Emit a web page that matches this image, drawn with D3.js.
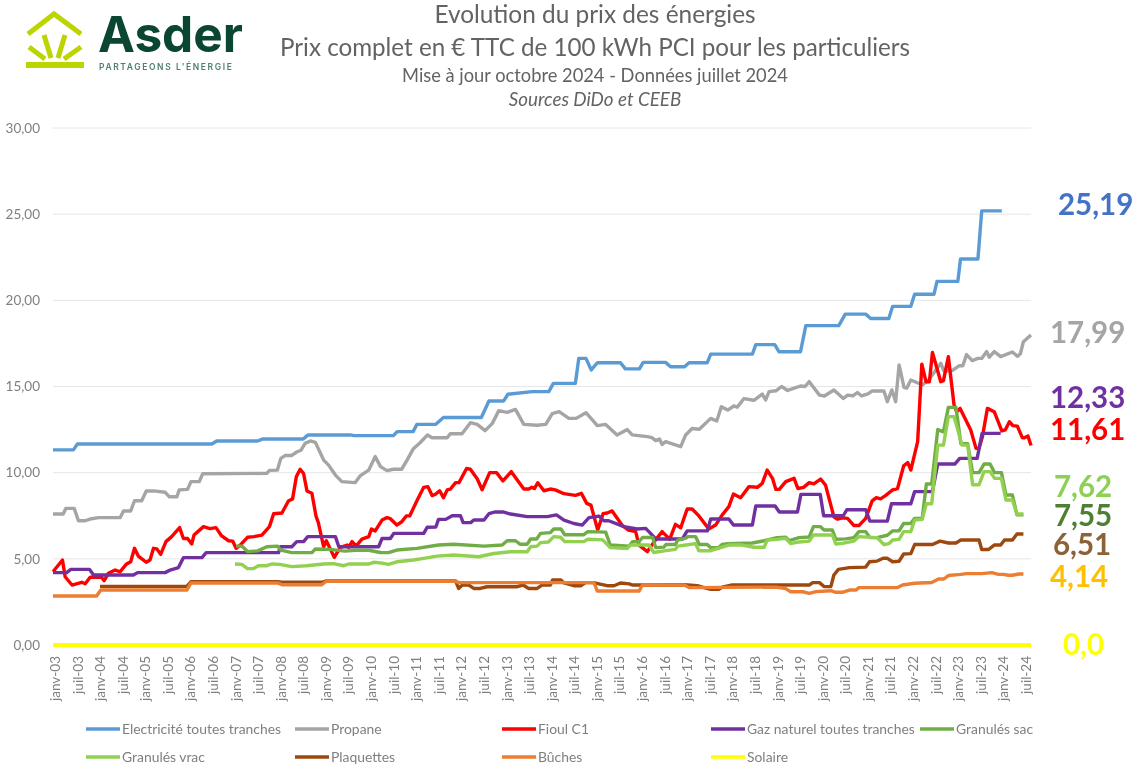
<!DOCTYPE html>
<html lang="fr">
<head>
<meta charset="utf-8">
<title>Evolution du prix des énergies</title>
<script src="https://cdn.jsdelivr.net/npm/d3@7"></script>
<style>
    html, body { margin: 0; padding: 0; background: #fff; }
    svg { display: block; font-family: Lato, "Open Sans", sans-serif; filter: blur(0.4px); }
</style>
</head>
<body>
<div id="chart"></div>
<script>
// each point is [months since janv-03, price in EUR for 100 kWh]
const electricite = [[0,11.32],[5.4,11.32],[6.4,11.66],[41.9,11.66],[43.2,11.84],[54,11.84],[55.2,11.95],[66,11.95],[67.3,12.19],[78.4,12.19],[79.5,12.15],[89.8,12.15],[90.8,12.38],[95,12.38],[96,12.8],[100.9,12.8],[103,13.2],[113,13.2],[115,14.16],[118.9,14.16],[120,14.55],[126.4,14.7],[130.8,14.7],[132,15.18],[137.8,15.18],[138.7,16.63],[140.6,16.63],[142,15.96],[143.6,16.38],[149.7,16.38],[151,16.02],[154.7,16.02],[155.7,16.4],[161.6,16.4],[162.9,16.15],[166.6,16.15],[167.8,16.38],[172.6,16.38],[173.5,16.88],[184.5,16.88],[185.4,17.43],[190.4,17.43],[191.5,17.02],[197.2,17.02],[198.6,18.53],[207.3,18.53],[209,19.2],[214.4,19.2],[215.7,18.95],[220.5,18.95],[221.5,19.65],[226.3,19.65],[227.3,20.35],[232.4,20.35],[233.2,21.1],[238.7,21.1],[239.4,22.4],[244,22.4],[245,25.19],[250.3,25.19]];

const propane = [[0,7.6],[2.7,7.6],[3.4,7.93],[5.6,7.93],[6.7,7.21],[8.5,7.21],[9.8,7.31],[12,7.39],[17.7,7.39],[18.6,7.78],[20.5,7.78],[21.5,8.37],[23.4,8.37],[24.6,8.94],[26.5,8.94],[29.6,8.86],[30.7,8.6],[32.7,8.6],[33.3,9],[35.5,9.03],[36.4,9.48],[38.6,9.48],[39.5,9.94],[56.4,9.96],[57.1,10.13],[59.2,10.15],[60.1,10.83],[61.3,11],[63,11],[64.3,11.2],[65.4,11.3],[66.5,11.7],[67.9,11.84],[69.2,11.76],[71.4,10.73],[72.7,10.44],[74.5,9.86],[76.2,9.48],[79.7,9.42],[81,9.81],[83.3,10.15],[85,10.93],[86.4,10.35],[88.1,10.12],[89.8,10.2],[92,10.2],[93.4,10.73],[95,11.37],[96.9,11.75],[98.8,12.19],[100,12.03],[104,12.03],[104.8,12.26],[107.9,12.26],[110.1,12.9],[111.9,12.8],[114,12.44],[115.9,12.86],[117.6,13.6],[119.8,13.5],[122,13.67],[124.2,12.8],[127.7,12.75],[130,12.8],[131.7,13.43],[133.5,13.54],[136.1,13.15],[138,13.15],[140.6,13.48],[143.6,12.73],[145.8,12.8],[148.8,12.19],[151.5,12.5],[152.8,12.19],[156.8,12.09],[158,12.03],[159,11.86],[160,11.95],[160.7,11.64],[161.6,11.8],[165.6,11.51],[166.9,12.19],[168.6,12.56],[170.5,12.52],[173.5,13.15],[175.1,13],[176.3,13.83],[178,13.63],[179.6,13.87],[180.5,13.8],[182.3,14.3],[184.9,14.2],[187.1,14.56],[188,14.22],[188.9,14.7],[190.7,14.75],[192.2,15],[193.8,14.77],[197.2,15.03],[198.4,15],[199.5,15.28],[202.2,14.5],[203.5,14.45],[206,14.8],[208.5,14.3],[209.6,14.5],[211,14.46],[212.2,14.65],[213.3,14.45],[215,14.57],[216.1,14.74],[219.2,14.74],[220.1,14.12],[221.3,14.8],[222.3,14.12],[223.2,16.25],[224.5,14.95],[225.2,14.9],[226.3,15.38],[228,15.22],[229.4,15.1],[231,15.38],[234.2,16.35],[235,15.9],[237.3,15.93],[239,16.2],[240,16.2],[241,16.85],[242.5,16.5],[244,16.63],[245,16.63],[246.3,17.03],[247,16.7],[248.3,17.03],[250,16.73],[253.1,17],[254.4,16.75],[255.2,16.9],[256,17.6],[258,17.99]];

const fioul = [[0,4.25],[2.5,4.93],[3.2,3.96],[5,3.48],[7.6,3.64],[8.5,3.55],[9.8,3.93],[12.8,3.93],[13.5,3.73],[14.6,4.16],[16.4,4.35],[17.7,4.25],[19.3,4.68],[20.5,4.83],[21.5,5.61],[22.5,5.16],[24.6,4.8],[25.6,4.93],[26.5,5.61],[27.4,5.58],[28.4,5.26],[29.8,6],[31.3,6.29],[33.4,6.81],[34.4,6.18],[35.5,6.18],[36.6,5.86],[37.2,6.38],[39.7,6.87],[41.4,6.75],[43,6.81],[44.5,6.33],[46.3,6.05],[47.4,6.03],[48.3,5.61],[49.4,5.8],[51.3,6.25],[53,6.29],[55.1,6.38],[57.1,6.87],[58.2,7.62],[60.4,7.66],[62.1,8.36],[63.2,8.48],[64.2,9.77],[65.2,10.2],[66.1,9.95],[67,8.94],[68.3,8.8],[69.4,7.46],[70,7.1],[71.4,5.7],[72.1,6.05],[74.2,5.09],[75.8,5.67],[77.6,5.8],[78,5.67],[78.9,6],[80,5.75],[81.5,6.14],[83.3,6.29],[84,6.73],[85,6.62],[86.8,7.25],[88.1,7.39],[89,7.33],[90.7,6.96],[92,7.15],[93.2,7.49],[94.1,7.49],[96,8.37],[97.8,9.15],[98.9,9.19],[100,8.67],[100.9,8.75],[102,8.95],[103,8.55],[104,9],[104.8,9.04],[106.2,9.42],[107.1,9.42],[109.1,10.24],[110.1,10.2],[111.9,9.65],[113.2,9.01],[115.2,10],[117,10],[118.7,9.52],[120.9,10.06],[124.2,9.05],[125.5,9.05],[126.3,9.15],[127,9.08],[127.9,9.42],[129.5,8.95],[131.2,9.05],[132.5,9],[134.8,8.78],[137.8,8.68],[139.4,8.8],[140.8,8.22],[141.9,8.12],[143.7,6.67],[145.1,7.62],[146.2,7.66],[147.5,7.78],[150.1,6.96],[151.8,6.67],[153.7,6.58],[154.6,5.8],[156.8,5.42],[158.6,6],[160.7,6.58],[162.7,6.14],[164.2,7],[165.6,6.8],[167.3,7.89],[168.6,7.89],[170.4,7.49],[173,6.73],[174.8,6.96],[176.5,7.54],[178.3,8.03],[179.5,8.76],[181.4,8.55],[183.6,9.19],[185.8,9.15],[187.1,9.38],[188.4,10.15],[189.8,9.67],[190.7,9.03],[191.6,9.03],[193.3,9.48],[195.5,9.67],[196.5,9.08],[198,9.15],[199.5,9.42],[200.7,9.35],[202.5,9.63],[203.8,9.28],[206,7.44],[206.9,7.3],[208.3,7.38],[209.6,7.35],[211.3,6.93],[212.6,6.93],[214.4,7.35],[216.1,8.36],[217.2,8.55],[218.3,8.48],[219.6,8.67],[221.5,9],[222.8,9.08],[224.4,10.39],[225.5,10.58],[226.3,10.15],[228.1,11.8],[229.2,16.3],[230.3,15.28],[231.2,15.28],[232,16.97],[234.2,15.28],[234.9,15.34],[236.2,16.73],[237.7,13.93],[238.4,13.54],[239.3,13.73],[240.8,13.06],[242.1,12.48],[243.5,11.41],[244.3,11.41],[245.2,12.1],[246.5,13.73],[248.3,13.54],[250.3,12.42],[251.2,12.48],[252.3,12.96],[253.2,12.73],[254.4,12.7],[255.7,12.03],[256.3,12.03],[257.2,12.13],[258,11.57]];

const gaz = [[0,4.2],[3.6,4.2],[4.7,4.39],[9.6,4.39],[10.7,4.06],[21.2,4.06],[22.3,4.2],[29.6,4.2],[30.9,4.35],[33.1,4.49],[34.4,5.07],[39.3,5.07],[40.4,5.36],[59.5,5.36],[60,5.7],[63,5.7],[64.3,6],[66.1,6],[67.2,6.29],[74.5,6.29],[75.4,5.7],[85.9,5.7],[86.8,6.18],[89,6.18],[89.9,6.48],[97.8,6.48],[98.7,6.83],[101,6.85],[101.7,7.29],[103.6,7.29],[105.3,7.5],[107.5,7.5],[108.2,7.1],[110.2,7.1],[111,7.25],[113.7,7.25],[115,7.62],[116.7,7.72],[118.7,7.72],[120.7,7.6],[125.1,7.45],[130.4,7.45],[132.8,7.55],[134.8,7.25],[137.4,7.05],[139.6,6.96],[141.4,7.39],[144,7.48],[145.3,7.21],[146.6,7.21],[150.6,6.87],[154.1,6.73],[156.3,6.77],[157.2,6.58],[159,6.15],[166,6.15],[167.3,6.62],[172.6,6.62],[173.5,7.31],[178.3,7.31],[179.5,6.96],[184.5,6.96],[185.4,8.07],[190.5,8.07],[191.6,7.72],[196.4,7.72],[197.3,8.74],[202.4,8.74],[203.3,7.5],[208.5,7.5],[209.4,7.85],[214.4,7.85],[215.5,7.19],[220.1,7.19],[221.2,8.2],[226.3,8.2],[227.3,8.9],[232,8.9],[233.4,10.5],[237.9,10.5],[239.2,10.83],[243.8,10.83],[245.1,12.28],[250,12.28]];

const granulesSac = [[48.3,5.74],[49.8,5.74],[51.3,5.42],[54,5.46],[56.4,5.7],[59.2,5.74],[60.1,5.51],[63,5.36],[68.3,5.36],[69.2,5.57],[73,5.55],[77,5.45],[79.7,5.5],[83.3,5.5],[86.4,5.37],[88.5,5.36],[90.7,5.51],[96,5.61],[101.7,5.8],[105.7,5.85],[113.7,5.74],[118.5,5.8],[119.8,6.05],[122,6.05],[123.2,5.85],[125.1,5.85],[126,6.15],[127.6,6.15],[128.6,6.48],[131.2,6.52],[132.1,6.73],[134,6.73],[135,6.4],[140,6.4],[141.1,6.58],[145.8,6.55],[147,5.8],[152,5.74],[152.9,6],[154.6,6],[155.5,6.24],[158.2,6.24],[159,5.65],[161.2,5.68],[161.7,5.83],[164.2,5.83],[164.8,6.09],[167,6.2],[167.4,6.29],[169.5,6.29],[170.5,5.83],[172.6,5.83],[173.5,5.65],[175.6,5.65],[176.5,5.83],[178,5.88],[184.5,5.92],[187.6,6.05],[191,6.23],[193.3,6.25],[194.2,6.05],[196.8,6.23],[199.5,6.27],[200.6,6.87],[202.4,6.87],[203.4,6.67],[205.6,6.67],[206.5,6.14],[209.1,6.16],[211.3,6.23],[212.6,6.58],[214.4,6.58],[215.5,6.23],[217.4,6.23],[220.1,6.37],[221.5,6.62],[223.2,6.62],[224.4,7.05],[226.3,7.05],[227.3,7.35],[229.3,7.35],[230.4,9.34],[231.8,9.34],[233.4,12.5],[234.9,12.37],[236.2,13.79],[238.2,13.79],[239.5,11.68],[241.3,11.68],[242.6,10],[244.3,10],[245.6,10.5],[247.2,10.5],[248.4,10],[250.2,10],[251.4,8.7],[253.1,8.7],[254.3,7.55],[256,7.55]];

const granulesVrac = [[48,4.7],[49.8,4.68],[51.3,4.43],[52.8,4.43],[54.2,4.6],[56.4,4.6],[57.7,4.7],[59.8,4.68],[63,4.55],[66.9,4.6],[71.4,4.7],[74,4.72],[76.7,4.6],[78,4.7],[83.3,4.7],[84.6,4.8],[86.8,4.75],[88.5,4.68],[90.7,4.83],[95.1,4.93],[97.8,5.03],[101.3,5.16],[105.7,5.22],[112.3,5.12],[116.3,5.31],[120.7,5.41],[125.1,5.41],[126,5.7],[127.7,5.74],[128.6,5.94],[130.7,5.98],[132.1,6.29],[133.9,6.25],[135,6],[140,6],[141.1,6.14],[145,6.1],[147,5.65],[151.5,5.6],[152.3,5.8],[157.2,5.8],[158.5,5.37],[161.2,5.46],[164.2,5.55],[164.8,5.74],[167,5.8],[169.5,5.88],[170.4,5.47],[173.5,5.47],[176.1,5.65],[178.3,5.8],[181.8,5.8],[184.9,5.67],[187.6,5.67],[188.4,6.09],[191,6.13],[193.3,6.19],[194.6,5.88],[196.8,5.98],[199.5,6.03],[200.6,6.38],[205.6,6.38],[206.5,5.86],[208.2,5.9],[211.3,6.03],[212.6,6.29],[217.4,6.23],[219.2,5.83],[220.5,5.88],[221.5,6.09],[223.2,6.13],[224.4,6.58],[226.3,6.58],[227.3,7.25],[229.3,7.29],[230.4,8.2],[231.8,8.2],[233.4,11.6],[234.9,11.6],[236.2,13.25],[237.7,13.25],[239.8,11.6],[241.3,11.6],[242.6,9.3],[244.3,9.3],[245.6,10.06],[247.2,10.06],[248.4,9.67],[250.2,9.67],[251.4,8.41],[253.1,8.41],[254.3,7.6],[256,7.6]];

const plaquettes = [[12.4,3.4],[35.3,3.4],[36.4,3.67],[59.2,3.67],[60.4,3.64],[70.9,3.64],[72.1,3.72],[106.2,3.72],[107,3.28],[108,3.48],[109.7,3.48],[111,3.28],[112.7,3.28],[114.5,3.38],[122.3,3.38],[124,3.48],[125.5,3.28],[127.7,3.28],[129,3.48],[131.2,3.48],[131.8,3.77],[134,3.77],[134.8,3.6],[137.4,3.44],[139.2,3.44],[140.5,3.62],[142.7,3.62],[144,3.55],[146.2,3.44],[148,3.44],[149.7,3.6],[152,3.55],[152.8,3.48],[155,3.48],[166.5,3.5],[170,3.44],[171.5,3.35],[173.5,3.23],[175.6,3.23],[176.5,3.35],[179.2,3.48],[199.5,3.48],[200.4,3.62],[202.2,3.62],[203.4,3.39],[205.2,3.39],[206,4.06],[207.2,4.39],[210.1,4.49],[214.4,4.52],[215.4,4.83],[217.4,4.87],[219,5.03],[220.1,5.03],[221.5,4.83],[223.2,4.86],[224.4,5.28],[226.3,5.3],[227.3,5.83],[232,5.83],[234,6.03],[236.2,5.92],[238.2,5.92],[239.5,6.09],[244.3,6.09],[245,5.54],[246.8,5.54],[248.3,5.8],[250,5.8],[251,6.09],[253.1,6.09],[254.3,6.44],[256,6.44]];

const buches = [[0,2.84],[11.5,2.84],[12.6,3.19],[35.3,3.19],[36.4,3.6],[59.2,3.6],[60.4,3.5],[70.9,3.5],[72.1,3.7],[106.2,3.7],[107,3.62],[142.7,3.62],[143.6,3.13],[154.6,3.13],[155.5,3.48],[166.5,3.48],[167.8,3.33],[190.7,3.36],[193.3,3.27],[194.6,3.09],[197.8,3.09],[199.5,3],[201.3,3.1],[205.2,3.15],[206.5,3.06],[208.2,3.06],[210.1,3.19],[211.9,3.19],[212.6,3.33],[222.8,3.33],[224.1,3.48],[227.3,3.58],[231.8,3.63],[233.6,3.83],[235,3.83],[236.2,4.03],[239.5,4.1],[241,4.14],[245,4.14],[247.7,4.2],[249.4,4.1],[250.7,4.1],[252,4.05],[253.1,4.05],[254.8,4.12],[256,4.12]];

const solaire = [[0,0],[258,0]];

const seriesNames = ['Electricité toutes tranches', 'Propane', 'Fioul C1', 'Gaz naturel toutes tranches', 'Granulés sac', 'Granulés vrac', 'Plaquettes', 'Bûches', 'Solaire'];
const seriesValues = [electricite, propane, fioul, gaz, granulesSac, granulesVrac, plaquettes, buches, solaire];
const seriesColors = ['#5b9bd5', '#a5a5a5', '#ff0000', '#7030a0', '#70ad47', '#92d050', '#9e480e', '#ed7d31', '#ffff00'];

const yTicks = [0, 5, 10, 15, 20, 25, 30];
const monthLabels = ['janv-03','juil-03','janv-04','juil-04','janv-05','juil-05','janv-06','juil-06','janv-07','juil-07','janv-08','juil-08','janv-09','juil-09','janv-10','juil-10','janv-11','juil-11','janv-12','juil-12','janv-13','juil-13','janv-14','juil-14','janv-15','juil-15','janv-16','juil-16','janv-17','juil-17','janv-18','juil-18','janv-19','juil-19','janv-20','juil-20','janv-21','juil-21','janv-22','juil-22','janv-23','juil-23','janv-24','juil-24'];

const endLabels = ['25,19', '17,99', '12,33', '11,61', '7,62', '7,55', '6,51', '4,14', '0,0'];
const endLabelColors = ['#4472c4', '#a5a5a5', '#7030a0', '#ff0000', '#8ed055', '#4f7f32', '#8c6239', '#ffc000', '#ffff00'];
const endLabelX = [1058, 1050, 1050, 1050, 1054, 1054, 1053, 1050, 1063];
const endLabelY = [215, 343, 408, 440, 497, 526, 555, 587, 655];

const titleLines = ['Evolution du prix des énergies', 'Prix complet en € TTC de 100 kWh PCI pour les particuliers', 'Mise à jour octobre 2024 - Données juillet 2024', 'Sources DiDo et CEEB'];

const width = 1134, height = 765;
const margin = {left: 53, right: 103, top: 128, bottom: 120};

const svg = d3.select('#chart').append('svg')
    .attr('width', width)
    .attr('height', height);

const x = d3.scaleLinear().domain([0, 258]).range([margin.left, width - margin.right]);
const y = d3.scaleLinear().domain([0, 30]).range([height - margin.bottom, margin.top]);
// the labels sit a little inside the plot width
const xLabels = d3.scaleLinear().domain([0, 258]).range([56, 1027]);

// grid
svg.append('g').selectAll('line')
    .data(yTicks)
    .enter()
    .append('line')
    .attr('x1', margin.left)
    .attr('x2', width - margin.right)
    .attr('y1', d => y(d))
    .attr('y2', d => y(d))
    .attr('stroke', '#e6e6e6')
    .attr('stroke-width', 1);

// axes
const yAxis = svg.append('g')
    .attr('transform', 'translate(' + margin.left + ',0)')
    .call(d3.axisLeft(y).tickValues(yTicks).tickSize(0).tickPadding(13).tickFormat(d => d3.format('.2f')(d).replace('.', ',')));
yAxis.select('.domain').remove();
yAxis.selectAll('text')
    .attr('fill', '#7f7f7f')
    .style('font-family', 'Lato')
    .style('font-size', '13.5px');

const xAxis = svg.append('g')
    .attr('transform', 'translate(0,' + (height - margin.bottom) + ')')
    .call(d3.axisBottom(xLabels).tickValues(monthLabels.map((d, i) => i * 6)).tickSize(0).tickFormat((d, i) => monthLabels[i]));
xAxis.select('.domain').remove();
xAxis.selectAll('text')
    .attr('fill', '#7f7f7f')
    .attr('text-anchor', 'end')
    .attr('dominant-baseline', 'middle')
    .attr('dy', 0)
    .attr('x', 0)
    .attr('y', 0)
    .attr('transform', 'translate(0,11) rotate(-90)')
    .style('font-family', 'Lato')
    .style('font-size', '13.5px');

// series, same stacking as the legend order
const lineFunc = d3.line()
    .x(d => x(d[0]))
    .y(d => y(d[1]));

svg.append('g').selectAll('path')
    .data(seriesValues)
    .enter()
    .append('path')
    .attr('d', d => lineFunc(d))
    .attr('fill', 'none')
    .attr('stroke', (d, i) => seriesColors[i])
    .attr('stroke-width', (d, i) => i === 8 ? 4 : 3.4)
    .attr('stroke-linejoin', 'round');

// end of line values
svg.append('g').selectAll('text')
    .data(endLabels)
    .enter()
    .append('text')
    .attr('x', (d, i) => endLabelX[i])
    .attr('y', (d, i) => endLabelY[i])
    .attr('fill', (d, i) => endLabelColors[i])
    .style('font-size', '29.5px')
    .style('font-weight', 700)
    .text(d => d);

// legend
const legendX = [86, 295, 502, 711, 920];
const legend = svg.append('g').selectAll('g')
    .data(seriesNames)
    .enter()
    .append('g')
    .attr('transform', (d, i) => 'translate(' + (i < 5 ? legendX[i] : legendX[i - 5]) + ',' + (i < 5 ? 729 : 757) + ')');
legend.append('line')
    .attr('x1', 0)
    .attr('x2', 34)
    .attr('stroke', (d, i) => seriesColors[i])
    .attr('stroke-width', 3.4);
legend.append('text')
    .attr('x', 36)
    .attr('y', 5)
    .attr('fill', '#7f7f7f')
    .style('font-size', '13.9px')
    .text(d => d);

// title block
const titleY = [23, 56, 82, 106];
const titleSize = [24.4, 24.2, 18.3, 18.8];
svg.append('g').selectAll('text')
    .data(titleLines)
    .enter()
    .append('text')
    .attr('x', 595)
    .attr('y', (d, i) => titleY[i])
    .attr('text-anchor', 'middle')
    .attr('fill', '#636363')
    .style('font-size', (d, i) => titleSize[i] + 'px')
    .style('font-style', (d, i) => i === 3 ? 'italic' : 'normal')
    .text(d => d);

// logo
const logo = svg.append('g');
logo.append('path')
    .attr('d', 'M28,34 L54,14 L81,34 M29,47 L45,59 M81,47 L64,59 M44,35 L51,58 M65,35 L58,58')
    .attr('fill', 'none')
    .attr('stroke', '#bcd400')
    .attr('stroke-width', 5);
logo.append('rect')
    .attr('x', 26).attr('y', 62).attr('width', 58).attr('height', 6)
    .attr('fill', '#bcd400');
logo.append('text')
    .attr('x', 98).attr('y', 52)
    .attr('fill', '#0b4632')
    .style('font-family', 'Inter')
    .style('font-size', '49.5px')
    .style('font-weight', 700)
    .text('Asder');
logo.append('text')
    .attr('x', 99).attr('y', 70)
    .attr('fill', '#4f7f6c')
    .style('font-family', 'Inter')
    .style('font-size', '8.5px')
    .style('font-weight', 600)
    .style('letter-spacing', '1.6px')
    .text("PARTAGEONS L'ÉNERGIE");
</script>
</body>
</html>
